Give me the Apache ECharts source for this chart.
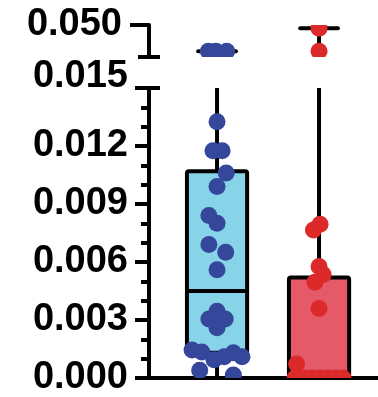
<!DOCTYPE html>
<html><head><meta charset="utf-8">
<script src="https://cdn.jsdelivr.net/npm/echarts@6/dist/echarts.min.js"></script>
<style>html,body{margin:0;padding:0;background:#fff}#c{width:378px;height:397px}</style>
</head><body><div id="c"></div>
<script>
// ---------- data ----------
const groupNames = ['Blue', 'Red'];
const groupPos = [1, 2];
// box stats: [min, q1, median, q3, max]
const boxBlue = [0.0000, 0.0013, 0.0045, 0.0107, 0.0459];
const boxRed  = [0.0000, 0.0000, 0.0000, 0.0052, 0.0495];
// individual points (values) and horizontal jitter (in category units)
const blueValues = [0.0459, 0.0459, 0.0459,
  0.01325, 0.01175, 0.01175, 0.0106, 0.0099, 0.0084, 0.0080, 0.0069, 0.0065, 0.0056,
  0.00345, 0.00305, 0.00305, 0.0026, 0.00145, 0.00135, 0.0004, 0.00095, 0.0011, 0.0013, 0.0011, 0.00015];
const blueJitter = [-0.085, -0.01, 0.095,
  0, -0.04, 0.05, 0.09, 0, -0.08, 0, -0.08, 0.085, 0,
  0, -0.08, 0.08, 0, -0.245, -0.15, -0.17, -0.03, 0.07, 0.16, 0.245, 0.16];
const redValues = [0.0495, 0.0459, 0.00795, 0.00765, 0.00577, 0.00535, 0.00495, 0.0036, 0.00073,
  0, 0, 0, 0, 0, 0, 0];
const redJitter = [0, 0, 0.01, -0.055, 0, 0.04, -0.04, 0, -0.22,
  -0.235, -0.157, -0.078, 0, 0.078, 0.157, 0.235];
// axis segments and tick labels
const upperRange = [0.045, 0.050];
const lowerRange = [0, 0.015];
const lowerInterval = 0.003;
const upperTickLabels = ['0.050'];
const lowerTickLabels = ['0.000', '0.003', '0.006', '0.009', '0.012', '0.015'];

// ---------- styles ----------
const boxFills = ['#87d3e8', '#e45a69'];
const pointColors = ['#34479b', '#dc2a2a'];
const BOX_W = 0.59, CAP_W = 0.37, R = 8.5, LW = 4;
const X_MIN = 0.333, X_MAX = 2.578;
const FONT = 'Liberation Sans, Arial, Helvetica, sans-serif';

const boxData = [
  [groupPos[0]].concat(boxBlue, [0]),
  [groupPos[1]].concat(boxRed, [1])
];
const bluePts = blueValues.map((v, i) => [groupPos[0] + blueJitter[i], v]);
const redPts = redValues.map((v, i) => [groupPos[1] + redJitter[i], v]);

function boxRender(params, api) {
  const x = api.value(0);
  const mn = api.value(1), q1 = api.value(2), md = api.value(3), q3 = api.value(4), mx = api.value(5);
  const fill = boxFills[api.value(6)];
  const bw = api.size([BOX_W, 0])[0];
  const cw = api.size([CAP_W, 0])[0];
  const pMax = api.coord([x, mx]), pQ3 = api.coord([x, q3]), pMd = api.coord([x, md]),
        pQ1 = api.coord([x, q1]), pMin = api.coord([x, mn]);
  const cx = pMax[0];
  const ls = { stroke: '#000', lineWidth: LW, lineCap: 'butt' };
  return {
    type: 'group',
    children: [
      { type: 'line', shape: { x1: cx, y1: pQ3[1], x2: cx, y2: pMax[1] }, style: ls },
      { type: 'line', shape: { x1: cx, y1: pQ1[1], x2: cx, y2: pMin[1] }, style: ls },
      { type: 'line', shape: { x1: cx - cw / 2, y1: pMax[1], x2: cx + cw / 2, y2: pMax[1] }, style: Object.assign({}, ls, {lineCap: 'round'}) },
      { type: 'line', shape: { x1: cx - cw / 2, y1: pMin[1], x2: cx + cw / 2, y2: pMin[1] }, style: ls },
      { type: 'rect', shape: { x: cx - bw / 2, y: pQ3[1], width: bw, height: pQ1[1] - pQ3[1], r: 2 },
        style: { fill: fill, stroke: '#000', lineWidth: LW, lineJoin: 'round' } },
      { type: 'line', shape: { x1: cx - bw / 2, y1: pMd[1], x2: cx + bw / 2, y2: pMd[1] }, style: ls }
    ]
  };
}
function pointRender(color) {
  return function (params, api) {
    const p = api.coord([api.value(0), api.value(1)]);
    return { type: 'circle', shape: { cx: p[0], cy: p[1], r: R }, style: { fill: color } };
  };
}
function capRender(params, api) {
  const p = api.coord([api.value(0), api.value(1)]);
  return { type: 'line', shape: { x1: p[0] - 11, y1: p[1], x2: p[0] + 11, y2: p[1] },
    style: { stroke: '#000', lineWidth: LW } };
}

function seriesFor(g) {
  return [
    { type: 'custom', xAxisIndex: g, yAxisIndex: g, clip: true, z: 2, renderItem: boxRender,
      encode: { x: 0, y: 1 }, data: boxData },
    { type: 'custom', xAxisIndex: g, yAxisIndex: g, clip: true, z: 3, renderItem: pointRender(pointColors[0]),
      encode: { x: 0, y: 1 }, data: bluePts },
    { type: 'custom', xAxisIndex: g, yAxisIndex: g, clip: true, z: 3, renderItem: pointRender(pointColors[1]),
      encode: { x: 0, y: 1 }, data: redPts },
    { type: 'custom', xAxisIndex: g, yAxisIndex: g, clip: false, z: 4, renderItem: capRender,
      encode: { x: 0, y: 1 }, data: [[X_MIN, g === 0 ? upperRange[0] : lowerRange[1]]] }
  ];
}

const labelBase = { fontSize: 38, fontWeight: 'bold', fontFamily: FONT, color: '#000' };
const chart = echarts.init(document.getElementById('c'), null, { renderer: 'canvas' });
chart.setOption({
  animation: false,
  backgroundColor: '#fff',
  grid: [
    { left: 149, top: 25, height: 32, width: 229 },
    { left: 149, top: 88, height: 293, width: 229 }
  ],
  xAxis: [
    { gridIndex: 0, type: 'value', min: X_MIN, max: X_MAX, show: false },
    { gridIndex: 1, type: 'value', min: X_MIN, max: X_MAX,
      axisLine: { show: true, onZero: false, lineStyle: { color: '#000', width: LW } },
      axisTick: { show: false }, axisLabel: { show: false }, splitLine: { show: false } }
  ],
  yAxis: [
    { gridIndex: 0, type: 'value', min: upperRange[0], max: upperRange[1], interval: upperRange[1] - upperRange[0],
      axisLine: { show: true, lineStyle: { color: '#000', width: LW } },
      axisTick: { show: true, length: 19, customValues: [upperRange[1]], lineStyle: { color: '#000', width: LW } },
      splitLine: { show: false },
      axisLabel: Object.assign({ margin: 27, customValues: [upperRange[1]],
        formatter: v => upperTickLabels[0] }, labelBase) },
    { gridIndex: 1, type: 'value', min: lowerRange[0], max: lowerRange[1], interval: lowerInterval,
      axisLine: { show: true, lineStyle: { color: '#000', width: LW } },
      axisTick: { show: true, length: 14, lineStyle: { color: '#000', width: LW } },
      minorTick: { show: true, splitNumber: 3, length: 8, lineStyle: { color: '#000', width: LW } },
      splitLine: { show: false }, minorSplitLine: { show: false },
      axisLabel: Object.assign({ margin: 21,
        formatter: v => {
          const i = Math.round(v / lowerInterval);
          const t = lowerTickLabels[i];
          return i === lowerTickLabels.length - 1 ? '{up|' + t + '}' : t;
        },
        rich: { up: Object.assign({ padding: [0, 0, 22, 0] }, labelBase) } }, labelBase) }
  ],
  series: seriesFor(0).concat(seriesFor(1))
});
</script></body></html>
